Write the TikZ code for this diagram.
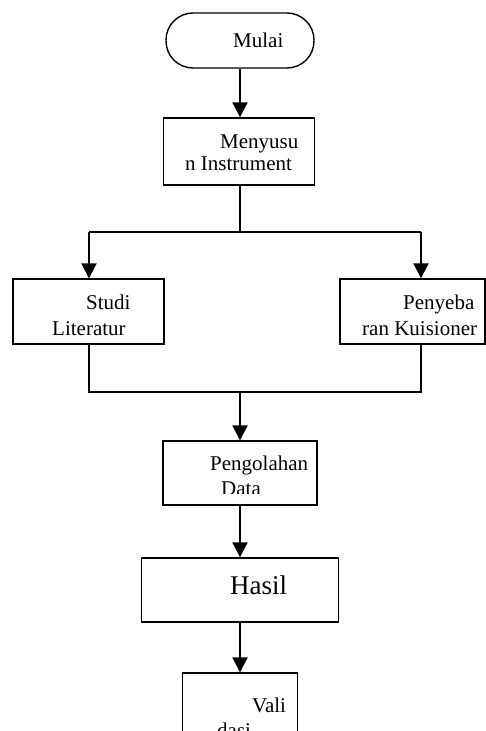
\documentclass[tikz,border=0pt]{standalone}
\usepackage{fontspec}
\setmainfont{Liberation Serif}
\usetikzlibrary{arrows.meta,positioning}

\begin{document}
\begin{tikzpicture}[x=1pt,y=-1pt,
    kotak/.style={draw,line width=1.4pt,inner sep=0pt},
    tulisan/.style={inner sep=0pt,anchor=north west,align=left,font=\fontsize{21}{22}\selectfont},
    panah/.style={line width=2pt,-{Triangle[width=15pt,length=15pt]}},
    garis/.style={line width=1.3pt}]
    \useasboundingbox (0,0) rectangle (486,731);

    % kotak
    \node[kotak,rounded corners=27pt,minimum width=148pt,minimum height=55pt] (mulai) at (240,40.5) {};
    \node[kotak,minimum width=151pt,minimum height=67pt] (menyusun) at (239,151.5) {};
    \node[kotak,minimum width=151pt,minimum height=65pt] (studi) at (88.5,311.5) {};
    \node[kotak,minimum width=145pt,minimum height=65pt] (penyebaran) at (412.5,311.5) {};
    \node[kotak,minimum width=154pt,minimum height=64pt] (pengolahan) at (240,473) {};
    \node[kotak,minimum width=197pt,minimum height=64pt] (hasil) at (240,590) {};
    \node[kotak,minimum width=115pt,minimum height=87pt] (validasi) at (240,716.5) {};

    % tulisan di dalam kotak
    \node[tulisan] (t-mulai) at (233,33) {Mulai};
    \node[tulisan] (t-menyusun) at (185,135) {\hspace*{35pt}Menyusu\\n Instrument};
    \node[tulisan] (t-studi) at (52,295) {\hspace*{34pt}Studi\\[4pt]Literatur};
    \node[tulisan] (t-penyebaran) at (362,295) {\hspace*{41pt}Penyeba\\[4pt]ran Kuisioner};
    \begin{scope}
        \clip (164,441) rectangle (318,493);
        \node[tulisan] (t-pengolahan) at (210,456) {Pengolahan\\[3pt]\hspace*{11pt}Data};
    \end{scope}
    \node[tulisan,font=\fontsize{27}{30}\selectfont] (t-hasil) at (230,575.5) {Hasil};
    \node[tulisan] (t-validasi) at (252,698) {Vali\\[3pt]\hspace*{-35pt}dasi};

    % garis penghubung
    \coordinate (cabang) at (240,232);
    \coordinate (kiri) at (89,232);
    \coordinate (kanan) at (421,232);
    \coordinate (gabung) at (240,392);
    \draw[panah] (mulai.south) -- (mulai.south |- menyusun.north);
    \draw[garis] (menyusun.south -| cabang) -- (cabang);
    \draw[garis] (kiri) -- (kanan);
    \draw[panah] (kiri) -- (kiri |- studi.north);
    \draw[panah] (kanan) -- (kanan |- penyebaran.north);
    \draw[garis] (kiri |- studi.south) -- (kiri |- gabung) -- (kanan |- gabung) -- (kanan |- penyebaran.south);
    \draw[panah] (gabung) -- (pengolahan);
    \draw[panah] (pengolahan) -- (hasil);
    \draw[panah] (hasil) -- (validasi);

\end{tikzpicture}
\end{document}
